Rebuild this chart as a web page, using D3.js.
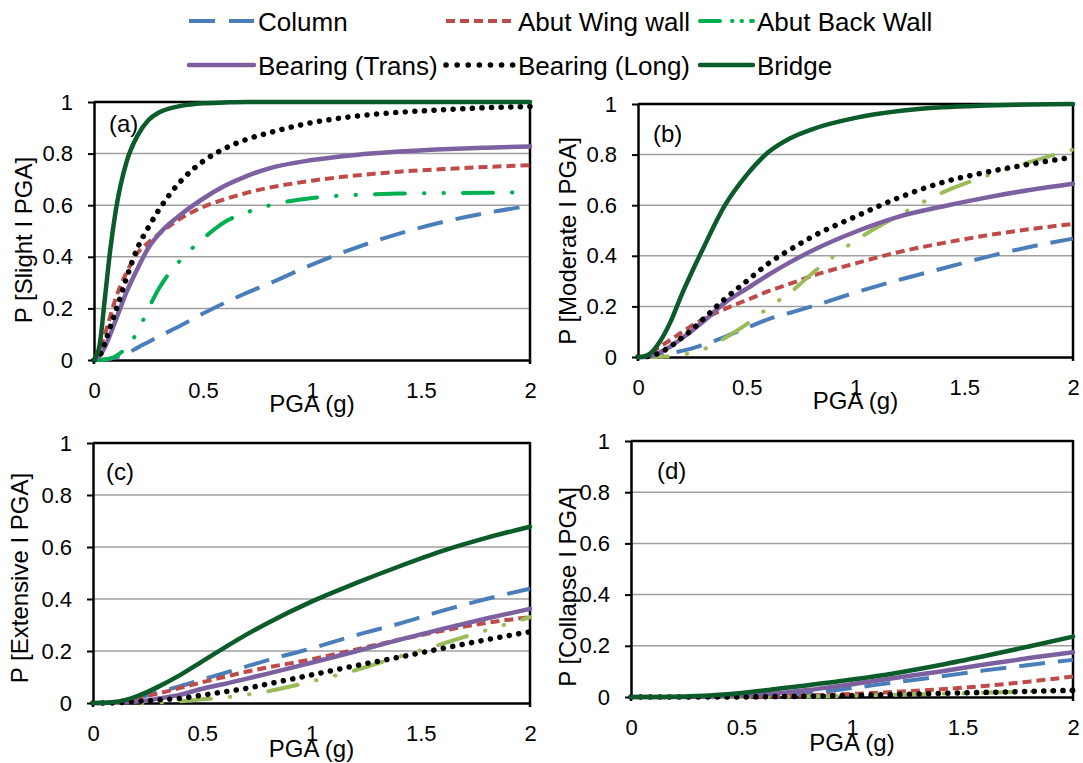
<!DOCTYPE html>
<html>
<head>
<meta charset="utf-8">
<script src="https://cdn.jsdelivr.net/npm/d3@7"></script>
<style>
  body { margin: 0; background: #fff; }
  text { font-family: "Liberation Sans", Arial, sans-serif; fill: #000; }
</style>
</head>
<body>
<svg id="chart" width="1083" height="763"></svg>
<script>
// PGA (g) sample points shared by every curve
var pga = [0, 0.025, 0.05, 0.075, 0.1, 0.15, 0.2, 0.25, 0.3, 0.4, 0.5, 0.6, 0.7, 0.8, 1.0, 1.2, 1.4, 1.6, 1.8, 2.0];

// (a) slight
var slightColumn = [0, 0, 0.002, 0.005, 0.01, 0.025, 0.048, 0.07, 0.092, 0.135, 0.18, 0.222, 0.26, 0.295, 0.37, 0.435, 0.49, 0.535, 0.57, 0.598];
var slightWing   = [0, 0.04, 0.1, 0.17, 0.24, 0.34, 0.415, 0.455, 0.49, 0.55, 0.593, 0.623, 0.648, 0.667, 0.695, 0.715, 0.73, 0.74, 0.748, 0.755];
var slightBack   = [0, 0, 0.002, 0.006, 0.015, 0.05, 0.11, 0.2, 0.28, 0.39, 0.47, 0.535, 0.572, 0.598, 0.628, 0.64, 0.645, 0.647, 0.648, 0.65];
var slightTrans  = [0, 0.015, 0.05, 0.1, 0.155, 0.265, 0.355, 0.435, 0.49, 0.565, 0.625, 0.675, 0.713, 0.742, 0.775, 0.795, 0.808, 0.817, 0.823, 0.828];
var slightLong   = [0, 0.015, 0.066, 0.13, 0.19, 0.32, 0.435, 0.515, 0.585, 0.695, 0.77, 0.82, 0.855, 0.88, 0.92, 0.945, 0.96, 0.97, 0.978, 0.983];
var slightBridge = [0, 0.055, 0.24, 0.43, 0.58, 0.77, 0.87, 0.93, 0.96, 0.985, 0.995, 0.998, 1, 1, 1, 1, 1, 1, 1, 1];

// (b) moderate
var modColumn = [0, 0, 0.001, 0.003, 0.006, 0.014, 0.024, 0.034, 0.048, 0.08, 0.115, 0.15, 0.175, 0.2, 0.255, 0.305, 0.35, 0.395, 0.435, 0.468];
var modWing   = [0, 0.003, 0.013, 0.026, 0.04, 0.068, 0.097, 0.125, 0.15, 0.19, 0.225, 0.26, 0.29, 0.32, 0.37, 0.415, 0.45, 0.48, 0.505, 0.526];
var modBack   = [0, 0, 0, 0, 0.001, 0.003, 0.008, 0.018, 0.03, 0.075, 0.13, 0.195, 0.255, 0.33, 0.46, 0.56, 0.65, 0.715, 0.77, 0.82];
var modTrans  = [0, 0, 0.002, 0.008, 0.018, 0.042, 0.073, 0.105, 0.14, 0.215, 0.27, 0.325, 0.375, 0.42, 0.495, 0.555, 0.595, 0.63, 0.66, 0.685];
var modLong   = [0, 0, 0.003, 0.008, 0.017, 0.042, 0.075, 0.11, 0.15, 0.23, 0.30, 0.37, 0.425, 0.475, 0.555, 0.63, 0.69, 0.73, 0.762, 0.79];
var modBridge = [0, 0.001, 0.01, 0.03, 0.06, 0.14, 0.245, 0.34, 0.43, 0.6, 0.72, 0.81, 0.865, 0.9, 0.945, 0.972, 0.987, 0.994, 0.998, 1];

// (c) extensive
var extColumn = [0, 0, 0, 0.001, 0.003, 0.01, 0.02, 0.03, 0.042, 0.065, 0.09, 0.115, 0.14, 0.165, 0.21, 0.26, 0.305, 0.355, 0.4, 0.44];
var extWing   = [0, 0, 0.001, 0.002, 0.005, 0.012, 0.02, 0.028, 0.037, 0.058, 0.08, 0.1, 0.12, 0.137, 0.168, 0.205, 0.243, 0.278, 0.308, 0.33];
var extBack   = [0, 0, 0, 0, 0, 0, 0, 0.001, 0.002, 0.007, 0.014, 0.021, 0.032, 0.045, 0.083, 0.126, 0.178, 0.228, 0.28, 0.33];
var extTrans  = [0, 0, 0, 0.001, 0.002, 0.004, 0.006, 0.01, 0.017, 0.032, 0.055, 0.073, 0.093, 0.113, 0.155, 0.198, 0.243, 0.285, 0.325, 0.362];
var extLong   = [0, 0, 0, 0, 0.001, 0.003, 0.006, 0.009, 0.012, 0.018, 0.03, 0.043, 0.056, 0.073, 0.108, 0.143, 0.176, 0.21, 0.243, 0.274];
var extBridge = [0, 0, 0.001, 0.002, 0.004, 0.012, 0.026, 0.043, 0.063, 0.108, 0.16, 0.212, 0.262, 0.308, 0.39, 0.46, 0.525, 0.585, 0.635, 0.678];

// (d) collapse
var colColumn = [0, 0, 0, 0, 0, 0, 0, 0, 0, 0.001, 0.002, 0.005, 0.009, 0.015, 0.035, 0.058, 0.08, 0.104, 0.125, 0.145];
var colWing   = [0, 0, 0, 0, 0, 0, 0, 0, 0, 0, 0, 0.002, 0.004, 0.006, 0.012, 0.02, 0.03, 0.043, 0.06, 0.08];
var colBack   = [0, 0, 0, 0, 0, 0, 0, 0, 0, 0, 0, 0, 0.001, 0.002, 0.005, 0.009, 0.013, 0.017, 0.021, 0.026];
var colTrans  = [0, 0, 0, 0, 0, 0, 0, 0, 0.001, 0.003, 0.006, 0.011, 0.018, 0.027, 0.05, 0.075, 0.1, 0.127, 0.152, 0.175];
var colLong   = [0, 0, 0, 0, 0, 0, 0, 0, 0, 0, 0, 0.001, 0.002, 0.003, 0.006, 0.01, 0.014, 0.018, 0.022, 0.026];
var colBridge = [0, 0, 0, 0, 0, 0, 0.001, 0.002, 0.004, 0.009, 0.016, 0.025, 0.036, 0.046, 0.068, 0.094, 0.125, 0.16, 0.197, 0.236];

var seriesNames = ["Column", "Abut Wing wall", "Abut Back Wall", "Bearing (Trans)", "Bearing (Long)", "Bridge"];
var seriesColors = ["#4A7EBB", "#BE4B48", "#9BBB59", "#7D60A0", "#000000", "#0B5B2B"];
var brightGreen = "#00B050";
var seriesDash = ["26 13", "9 5", "30 19 0.5 19 0.5 19", null, "0.1 9.5", null];
var legendDash = ["26 14", "9 5", "20 12 0.5 9 0.5 9", null, "0.1 11", null];
var seriesWidth = [4, 4, 4, 4.5, 5.5, 4.5];
var seriesCap = ["butt", "butt", "round", "round", "round", "round"];

var yTicks = [0, 0.2, 0.4, 0.6, 0.8, 1];
var yTickLabels = ["0", "0.2", "0.4", "0.6", "0.8", "1"];
var xTicks = [0, 0.5, 1, 1.5, 2];
var xTickLabels = ["0", "0.5", "1", "1.5", "2"];

var panels = [
    {tag: "(a)", title: "P [Slight I PGA]", back: brightGreen,
     series: [slightColumn, slightWing, slightBack, slightTrans, slightLong, slightBridge],
     box: [94, 530, 102, 360], titlePos: [24, 240], tagPos: [109, 124], xTitleDy: 52},
    {tag: "(b)", title: "P [Moderate I PGA]", back: null,
     series: [modColumn, modWing, modBack, modTrans, modLong, modBridge],
     box: [638, 1073, 104, 357], titlePos: [568, 241], tagPos: [653, 134], xTitleDy: 52},
    {tag: "(c)", title: "P [Extensive I PGA]", back: null,
     series: [extColumn, extWing, extBack, extTrans, extLong, extBridge],
     box: [93, 530, 443, 703], titlePos: [20, 578], tagPos: [106, 472], xTitleDy: 54},
    {tag: "(d)", title: "P [Collapse I PGA]", back: null,
     series: [colColumn, colWing, colBack, colTrans, colLong, colBridge],
     box: [631, 1073, 441, 697], titlePos: [568, 587], tagPos: [657, 471], xTitleDy: 54}
];

var svg = d3.select("#chart");

function drawPanel(p) {
    var left = p.box[0], right = p.box[1], top = p.box[2], bottom = p.box[3];
    var x = d3.scaleLinear().domain([0, 2]).range([left, right]);
    var y = d3.scaleLinear().domain([0, 1]).range([bottom, top]);
    var g = svg.append("g");

    // gridlines
    g.selectAll("line.grid")
        .data([0.2, 0.4, 0.6, 0.8])
        .enter().append("line")
        .attr("x1", left).attr("x2", right)
        .attr("y1", function(d){ return y(d); })
        .attr("y2", function(d){ return y(d); })
        .attr("stroke", "#A0A0A0")
        .attr("stroke-width", 1.5);

    var yAxis = g.append("g")
        .attr("transform", "translate(" + left + ",0)")
        .call(d3.axisLeft(y).tickValues(yTicks)
            .tickFormat(function(d, i){ return yTickLabels[i]; })
            .tickSizeInner(6).tickSizeOuter(0).tickPadding(15));
    yAxis.select(".domain").attr("stroke", "#000").attr("stroke-width", 2.5);
    yAxis.selectAll(".tick line").attr("stroke", "#000").attr("stroke-width", 2);
    yAxis.selectAll(".tick text").style("font-size", "22px")
        .style("font-family", "'Liberation Sans', Arial, sans-serif");

    var xAxis = g.append("g")
        .attr("transform", "translate(0," + bottom + ")")
        .call(d3.axisBottom(x).tickValues(xTicks)
            .tickFormat(function(d, i){ return xTickLabels[i]; })
            .tickSizeInner(0).tickSizeOuter(0).tickPadding(22));
    xAxis.select(".domain").attr("stroke", "#000").attr("stroke-width", 2.5);
    xAxis.selectAll(".tick text").style("font-size", "22px")
        .style("font-family", "'Liberation Sans', Arial, sans-serif");

    // top and right borders, small stubs below the corners
    g.append("line").attr("x1", left).attr("x2", right).attr("y1", top).attr("y2", top)
        .attr("stroke", "#000").attr("stroke-width", 2.5);
    g.append("line").attr("x1", right).attr("x2", right).attr("y1", top - 1).attr("y2", bottom + 4)
        .attr("stroke", "#000").attr("stroke-width", 2.5);
    g.append("line").attr("x1", left).attr("x2", left).attr("y1", bottom).attr("y2", bottom + 4)
        .attr("stroke", "#000").attr("stroke-width", 2.5);

    // curves
    var line = d3.line()
        .x(function(d, i){ return x(pga[i]); })
        .y(function(d){ return y(d); })
        .curve(d3.curveMonotoneX);
    p.series.forEach(function(vals, k){
        var col = seriesColors[k];
        if (k == 2 && p.back) col = p.back;
        g.append("path")
            .attr("d", line(vals))
            .attr("fill", "none")
            .attr("stroke", col)
            .attr("stroke-width", seriesWidth[k])
            .attr("stroke-linecap", seriesCap[k])
            .attr("stroke-linejoin", "round")
            .attr("stroke-dasharray", seriesDash[k]);
    });

    // panel tag
    g.append("text")
        .attr("x", p.tagPos[0]).attr("y", p.tagPos[1])
        .attr("dy", "0.35em")
        .style("font-size", "24px")
        .text(p.tag);

    // axis titles
    g.append("text")
        .attr("transform", "translate(" + p.titlePos[0] + "," + p.titlePos[1] + ") rotate(-90)")
        .attr("text-anchor", "middle")
        .attr("dy", "0.35em")
        .style("font-size", "24px")
        .text(p.title);
    g.append("text")
        .attr("x", (left + right) / 2)
        .attr("y", bottom + p.xTitleDy)
        .attr("text-anchor", "middle")
        .style("font-size", "24px")
        .text("PGA (g)");
}

panels.forEach(drawPanel);

// legend, two rows of three
var legendRows = [21, 65];
var legendCols = [189, 446, 700];
var legendSample = [65, 68, 53];
var leg = svg.append("g");
seriesNames.forEach(function(name, k){
    var c = k % 3;
    var cx = legendCols[c], cy = legendRows[Math.floor(k / 3)];
    var col = (k == 2) ? brightGreen : seriesColors[k];
    leg.append("line")
        .attr("x1", cx).attr("x2", cx + legendSample[c])
        .attr("y1", cy).attr("y2", cy)
        .attr("stroke", col)
        .attr("stroke-width", seriesWidth[k])
        .attr("stroke-linecap", seriesCap[k])
        .attr("stroke-dasharray", legendDash[k]);
    leg.append("text")
        .attr("x", cx + legendSample[c] + 4).attr("y", cy + 9.5)
        .style("font-size", "26px")
        .text(name);
});
</script>
</body>
</html>
